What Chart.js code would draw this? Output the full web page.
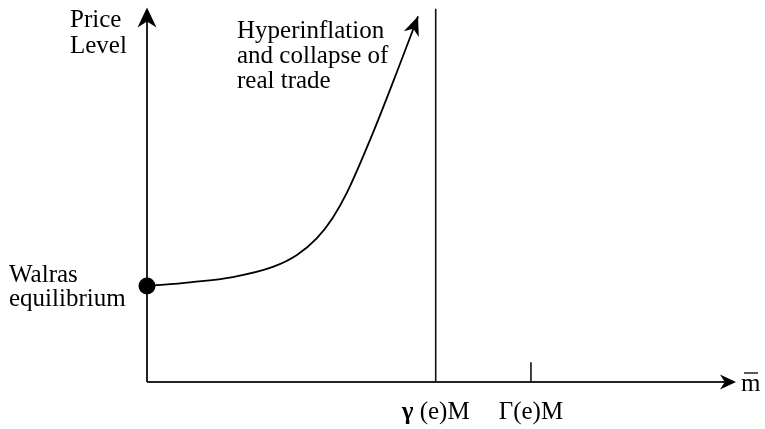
<!DOCTYPE html>
<html>
<head>
<meta charset="utf-8">
<script src="https://cdn.jsdelivr.net/npm/chart.js@4/dist/chart.umd.min.js"></script>
<style>
  html, body { margin: 0; padding: 0; background: #fff; }
  #wrap { width: 765px; height: 429px; position: relative; }
</style>
</head>
<body>
<div id="wrap"><canvas id="chart"></canvas></div>
<script>
// Price level path as money balances rise (x: m-bar, y: price level), 0-100 units
const curveX = [0, 7.3, 14.6, 21.4, 25.5, 28.9, 31.6, 34.0, 38.4, 42.5, 46.1];
const curveY = [25.7, 26.7, 28.1, 30.8, 34.0, 38.5, 44.0, 50.7, 66.6, 83.0, 97.9];

// Walras equilibrium point
const walras = { x: 0, y: 25.7 };

// Marked quantities on the m-bar axis
const gammaM = 49.1;      // γ(e)M, vertical limit line
const bigGammaM = 65.3;   // Γ(e)M, short tick
const tickHeight = 5.3;

const axisLabels = {
    y: ['Price', 'Level'],
    curve: ['Hyperinflation', 'and collapse of', 'real trade'],
    point: ['Walras', 'equilibrium']
};

const curveData = curveX.map((x, i) => ({ x: x, y: curveY[i] }));

const FONT = '"Liberation Serif", "Times New Roman", Times, serif';
const SIZE = 25;

function arrowHead(ctx, tipX, tipY, dx, dy, len, half) {
    const n = Math.hypot(dx, dy);
    const ux = dx / n, uy = dy / n;
    const px = -uy, py = ux;
    ctx.beginPath();
    ctx.moveTo(tipX, tipY);
    ctx.lineTo(tipX - ux * len + px * half, tipY - uy * len + py * half);
    ctx.lineTo(tipX - ux * len * 0.7, tipY - uy * len * 0.7);
    ctx.lineTo(tipX - ux * len - px * half, tipY - uy * len - py * half);
    ctx.closePath();
    ctx.fill();
}

function drawText(ctx, lines, x, y, lineH, align) {
    ctx.save();
    ctx.font = SIZE + 'px ' + FONT;
    ctx.fillStyle = '#000';
    ctx.textBaseline = 'alphabetic';
    ctx.textAlign = align || 'left';
    lines.forEach((t, i) => {
        ctx.fillText(t, x, y + i * lineH);
    });
    ctx.restore();
}

const decorations = {
    id: 'decorations',
    beforeDatasetsDraw(chart) {
        const ctx = chart.ctx;
        const xs = chart.scales.x, ys = chart.scales.y;
        const x0 = xs.getPixelForValue(0), y0 = ys.getPixelForValue(0);
        const xEnd = xs.getPixelForValue(100), yEnd = ys.getPixelForValue(100);
        ctx.save();
        ctx.strokeStyle = '#222';
        ctx.fillStyle = '#000';
        ctx.lineWidth = 2;
        // y axis
        ctx.beginPath();
        ctx.moveTo(x0, y0);
        ctx.lineTo(x0, yEnd + 4);
        ctx.stroke();
        arrowHead(ctx, x0, yEnd - 1, 0, -1, 20, 9.5);
        // x axis
        ctx.beginPath();
        ctx.moveTo(x0, y0);
        ctx.lineTo(xEnd - 4, y0);
        ctx.stroke();
        arrowHead(ctx, xEnd + 1, y0, 1, 0, 16, 7.5);
        ctx.restore();
    },
    afterDatasetsDraw(chart) {
        const ctx = chart.ctx;
        const xs = chart.scales.x, ys = chart.scales.y;
        const x0 = xs.getPixelForValue(0), y0 = ys.getPixelForValue(0);
        const xEnd = xs.getPixelForValue(100);

        // arrowhead at the end of the curve
        const n = curveData.length;
        const tx = xs.getPixelForValue(curveData[n - 1].x), ty = ys.getPixelForValue(curveData[n - 1].y);
        const bx = xs.getPixelForValue(curveData[n - 2].x), by = ys.getPixelForValue(curveData[n - 2].y);
        ctx.save();
        ctx.fillStyle = '#000';
        arrowHead(ctx, tx, ty, tx - bx, ty - by, 19, 8);
        ctx.restore();

        // texts
        drawText(ctx, axisLabels.y, x0 - 77, 27, 26);
        drawText(ctx, axisLabels.curve, x0 + 90, 38, 25);
        drawText(ctx, axisLabels.point, 9, 282, 24);

        // axis labels under the line and tick
        const gx = xs.getPixelForValue(gammaM), Gx = xs.getPixelForValue(bigGammaM);
        ctx.save();
        ctx.fillStyle = '#000';
        ctx.textBaseline = 'alphabetic';
        ctx.font = 'bold ' + SIZE + 'px ' + FONT;
        const wg = ctx.measureText('\u03b3').width;
        ctx.font = SIZE + 'px ' + FONT;
        const wr = ctx.measureText(' (e)M').width;
        const sx = gx - (wg + wr) / 2;
        ctx.font = 'bold ' + SIZE + 'px ' + FONT;
        ctx.fillText('\u03b3', sx, y0 + 37);
        ctx.font = SIZE + 'px ' + FONT;
        ctx.fillText(' (e)M', sx + wg, y0 + 37);
        ctx.restore();
        drawText(ctx, ['\u0393(e)M'], Gx, y0 + 37, 25, 'center');

        // m-bar label
        drawText(ctx, ['m'], xEnd + 6, y0 + 9, 25);
        ctx.save();
        ctx.strokeStyle = '#000';
        ctx.lineWidth = 1.3;
        ctx.beginPath();
        ctx.moveTo(xEnd + 9, y0 - 9);
        ctx.lineTo(xEnd + 23, y0 - 9);
        ctx.stroke();
        ctx.restore();
    }
};

function buildChart() {
    new Chart(document.getElementById('chart'), {
        type: 'scatter',
        data: {
            datasets: [
                {
                    label: 'Price level',
                    data: curveData,
                    showLine: true,
                    borderColor: '#000',
                    borderWidth: 1.8,
                    pointRadius: 0,
                    cubicInterpolationMode: 'monotone',
                    fill: false,
                    clip: false
                },
                {
                    label: 'γ(e)M',
                    data: [{ x: gammaM, y: 0 }, { x: gammaM, y: 100 }],
                    showLine: true,
                    borderColor: '#111',
                    borderWidth: 1.6,
                    pointRadius: 0
                },
                {
                    label: 'Γ(e)M',
                    data: [{ x: bigGammaM, y: 0 }, { x: bigGammaM, y: tickHeight }],
                    showLine: true,
                    borderColor: '#111',
                    borderWidth: 1.6,
                    pointRadius: 0
                },
                {
                    label: 'Walras equilibrium',
                    data: [walras],
                    pointRadius: 8.5,
                    pointBackgroundColor: '#000',
                    pointBorderColor: '#000',
                    borderWidth: 0,
                    clip: false
                }
            ]
        },
        options: {
            responsive: true,
            maintainAspectRatio: false,
            animation: false,
            layout: { padding: { left: 147, right: 30, top: 5, bottom: 47 } },
            plugins: {
                legend: { display: false },
                tooltip: { enabled: false }
            },
            scales: {
                x: { type: 'linear', min: 0, max: 100, display: false },
                y: { type: 'linear', min: 0, max: 100, display: false }
            }
        },
        plugins: [decorations]
    });
}

Promise.all([
    document.fonts.load(SIZE + 'px "Liberation Serif"'),
    document.fonts.load('bold ' + SIZE + 'px "Liberation Serif"')
]).then(buildChart, buildChart);
</script>
</body>
</html>
